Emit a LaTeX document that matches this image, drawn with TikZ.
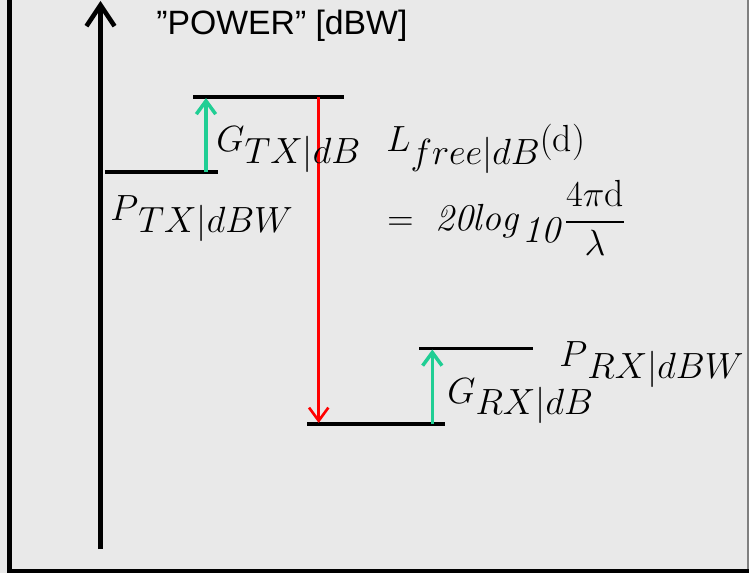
\documentclass[tikz,border=0pt]{standalone}
\usepackage{amsmath}
\usepackage{fontspec}
\usetikzlibrary{arrows.meta, positioning}
\newfontfamily\axisfont{Liberation Sans}
\definecolor{panelgray}{RGB}{233, 233, 233}
\definecolor{gaingreen}{RGB}{32, 206, 148}
\newcommand{\wordsub}[2]{#1\raisebox{-0.34em}{$#2$}}
\tikzset{
  axis/.style={
    -{Straight Barb[length=12pt, width=16pt, line width=2.6pt]},
    line width=2.6pt,
    draw=black
  },
  level/.style={
    line width=2pt,
    draw=black
  },
  gain/.style={
    -{Straight Barb[length=7.5pt, width=11pt, line width=2pt]},
    line width=1.8pt,
    draw=gaingreen
  },
  loss/.style={
    -{Straight Barb[length=7.5pt, width=11pt]},
    line width=1.5pt,
    draw=red
  },
  term/.style={
    anchor=base west,
    inner sep=0pt,
    font=\fontsize{19.5}{23}\selectfont
  },
  bigterm/.style={
    term,
    font=\fontsize{21.5}{26}\selectfont
  }
}

\begin{document}
\begin{tikzpicture}[x=0.02cm, y=-0.02cm]
  \useasboundingbox (0,0) rectangle (749,573);
  \fill[panelgray] (0,0) rectangle (749,573);
  \draw[line width=2.6pt] (9.3,0) -- (9.3,571) -- (749,571);
  \draw[gray, line width=0.8pt] (748,0) -- (748,569);

  \coordinate (foot) at (100.5,549);
  \coordinate (top) at (100.5,1);
  \draw[axis] (foot) -- (top);
  \node[anchor=base west, inner sep=0pt, font=\axisfont\fontsize{19.2}{23}\selectfont]
    (unit) at (156,35) {”POWER” [dBW]};

  \coordinate (txL) at (105,172);
  \coordinate (txR) at (218,172);
  \coordinate (eirpL) at (193,97);
  \coordinate (eirpR) at (344,97);
  \coordinate (rxinL) at (307,424);
  \coordinate (rxinR) at (445,424);
  \coordinate (rxL) at (419,348.5);
  \coordinate (rxR) at (533,348.5);
  \draw[level] (txL) -- (txR);
  \draw[level] (eirpL) -- (eirpR);
  \draw[level] (rxinL) -- (rxinR);
  \draw[level] (rxL) -- (rxR);

  \coordinate (gtxfoot) at (206,172);
  \coordinate (gtxtip) at (206,98);
  \coordinate (lossfoot) at (318.7,97);
  \coordinate (losstip) at (318.7,423);
  \coordinate (grxfoot) at (432.3,424);
  \coordinate (grxtip) at (432.3,349.5);
  \draw[gain] (gtxfoot) -- (gtxtip);
  \draw[loss] (lossfoot) -- (losstip);
  \draw[gain] (grxfoot) -- (grxtip);

  \node[term] (gtx) at (216,152) {$\wordsub{G}{TX|dB}$};
  \node[term] (ptx) at (110,221) {$\wordsub{P}{TX|dBW}$};
  \node[bigterm] (lfree) at (386,152) {$\wordsub{L}{free|dB}(\mathrm{d})$};
  \node[bigterm] (lform) at (387,231)
    {$=\ \mathit{20log}\mkern2mu\raisebox{-0.3em}{$\mathit{10}$}\mkern2mu\dfrac{4\pi\mathrm{d}}{\lambda}$};
  \node[term] (grx) at (447,403) {$\wordsub{G}{RX|dB}$};
  \node[term] (prx) at (559,367) {$\wordsub{P}{RX|dBW}$};
\end{tikzpicture}
\end{document}
